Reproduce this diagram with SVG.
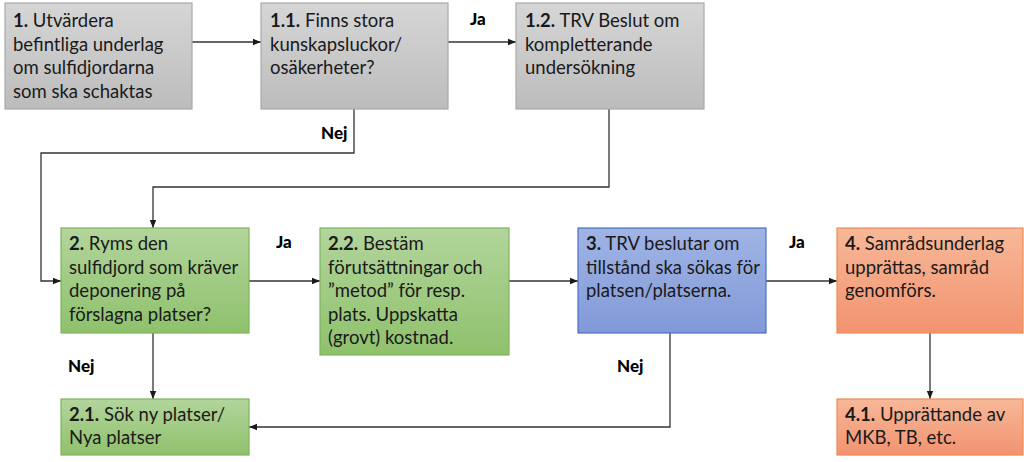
<svg xmlns="http://www.w3.org/2000/svg" width="1024" height="462" viewBox="0 0 1024 462">
<defs>
<linearGradient id="gGray" x1="0" y1="0" x2="0" y2="1"><stop offset="0" stop-color="#d6d6d6"/><stop offset="1" stop-color="#bcbcbc"/></linearGradient>
<linearGradient id="gGreen" x1="0" y1="0" x2="0" y2="1"><stop offset="0" stop-color="#b2d59c"/><stop offset="1" stop-color="#8fc16c"/></linearGradient>
<linearGradient id="gBlue" x1="0" y1="0" x2="0" y2="1"><stop offset="0" stop-color="#a0b4e4"/><stop offset="1" stop-color="#8199d8"/></linearGradient>
<linearGradient id="gOrange" x1="0" y1="0" x2="0" y2="1"><stop offset="0" stop-color="#f7b898"/><stop offset="1" stop-color="#f29370"/></linearGradient>
<marker id="arr" viewBox="0 0 10 10" refX="10" refY="5" markerWidth="8" markerHeight="8" markerUnits="userSpaceOnUse" orient="auto"><path d="M0,1 L10,5 L0,9 z" fill="#1a1a1a"/></marker>
</defs>
<style>
.gray{fill:url(#gGray);stroke:#a9a9a9;stroke-width:1.2}
.green{fill:url(#gGreen);stroke:#7fb35a;stroke-width:1.2}
.blue{fill:url(#gBlue);stroke:#4a72c6;stroke-width:1.2}
.orange{fill:url(#gOrange);stroke:#ee8a55;stroke-width:1.2}
text{font-family:Lato,"Liberation Sans",Arial,sans-serif;font-size:18.5px;fill:#1a1a1a}
.b{font-weight:bold}
.lbl{font-weight:900;font-size:17px;fill:#000}
.c{fill:none;stroke:#333;stroke-width:1.3}
</style>
<rect width="1024" height="462" fill="#fff"/>
<g id="connectors">
<line class="c" x1="192" y1="42" x2="261" y2="42" marker-end="url(#arr)"/>
<line class="c" x1="448" y1="42" x2="516" y2="42" marker-end="url(#arr)"/>
<polyline class="c" points="354,109 354,153 41,153 41,281 61,281" marker-end="url(#arr)"/>
<polyline class="c" points="609,109 609,187 153,187 153,228" marker-end="url(#arr)"/>
<line class="c" x1="249" y1="281" x2="320" y2="281" marker-end="url(#arr)"/>
<line class="c" x1="509" y1="281" x2="578" y2="281" marker-end="url(#arr)"/>
<line class="c" x1="766" y1="281" x2="837" y2="281" marker-end="url(#arr)"/>
<line class="c" x1="153" y1="333" x2="153" y2="399" marker-end="url(#arr)"/>
<polyline class="c" points="670,333 670,427 249,427" marker-end="url(#arr)"/>
<line class="c" x1="930" y1="333" x2="930" y2="399" marker-end="url(#arr)"/>
<text class="lbl" x="470" y="25">Ja</text>
<text class="lbl" x="321" y="139">Nej</text>
<text class="lbl" x="276" y="248">Ja</text>
<text class="lbl" x="789" y="248">Ja</text>
<text class="lbl" x="68" y="372">Nej</text>
<text class="lbl" x="617" y="372">Nej</text>
</g>
<g id="n1"><rect class="gray" x="5" y="3" width="187" height="106"/>
<text x="13" y="27"><tspan class="b">1.</tspan> Utvärdera</text><text x="13" y="50.5">befintliga underlag</text><text x="13" y="74">om sulfidjordarna</text><text x="13" y="97.5">som ska schaktas</text></g>
<g id="n1_1"><rect class="gray" x="261" y="3" width="187" height="106"/>
<text x="270" y="27"><tspan class="b">1.1.</tspan> Finns stora</text><text x="270" y="50.5">kunskapsluckor/</text><text x="270" y="74">osäkerheter?</text></g>
<g id="n1_2"><rect class="gray" x="516" y="3" width="188" height="106"/>
<text x="525" y="27"><tspan class="b">1.2.</tspan> TRV Beslut om</text><text x="525" y="50.5">kompletterande</text><text x="525" y="74">undersökning</text></g>
<g id="n2"><rect class="green" x="61" y="228" width="188" height="105"/>
<text x="69" y="250"><tspan class="b">2.</tspan> Ryms den</text><text x="69" y="273.5">sulfidjord som kräver</text><text x="69" y="297">deponering på</text><text x="69" y="320.5">förslagna platser?</text></g>
<g id="n2_2"><rect class="green" x="320" y="228" width="189" height="127"/>
<text x="328" y="250"><tspan class="b">2.2.</tspan> Bestäm</text><text x="328" y="273.5">förutsättningar och</text><text x="328" y="297">”metod” för resp.</text><text x="328" y="320.5">plats. Uppskatta</text><text x="328" y="344">(grovt) kostnad.</text></g>
<g id="n3"><rect class="blue" x="578" y="228" width="188" height="105"/>
<text x="586" y="250"><tspan class="b">3.</tspan> TRV beslutar om</text><text x="586" y="273.5">tillstånd ska sökas för</text><text x="586" y="297">platsen/platserna.</text></g>
<g id="n4"><rect class="orange" x="837" y="228" width="186" height="105"/>
<text x="845" y="250"><tspan class="b">4.</tspan> Samrådsunderlag</text><text x="845" y="273.5">upprättas, samråd</text><text x="845" y="297">genomförs.</text></g>
<g id="n2_1"><rect class="green" x="61" y="399" width="188" height="56"/>
<text x="69" y="421"><tspan class="b">2.1.</tspan> Sök ny platser/</text><text x="69" y="444">Nya platser</text></g>
<g id="n4_1"><rect class="orange" x="837" y="399" width="186" height="56"/>
<text x="845" y="421"><tspan class="b">4.1.</tspan> Upprättande av</text><text x="845" y="444">MKB, TB, etc.</text></g>
</svg>
